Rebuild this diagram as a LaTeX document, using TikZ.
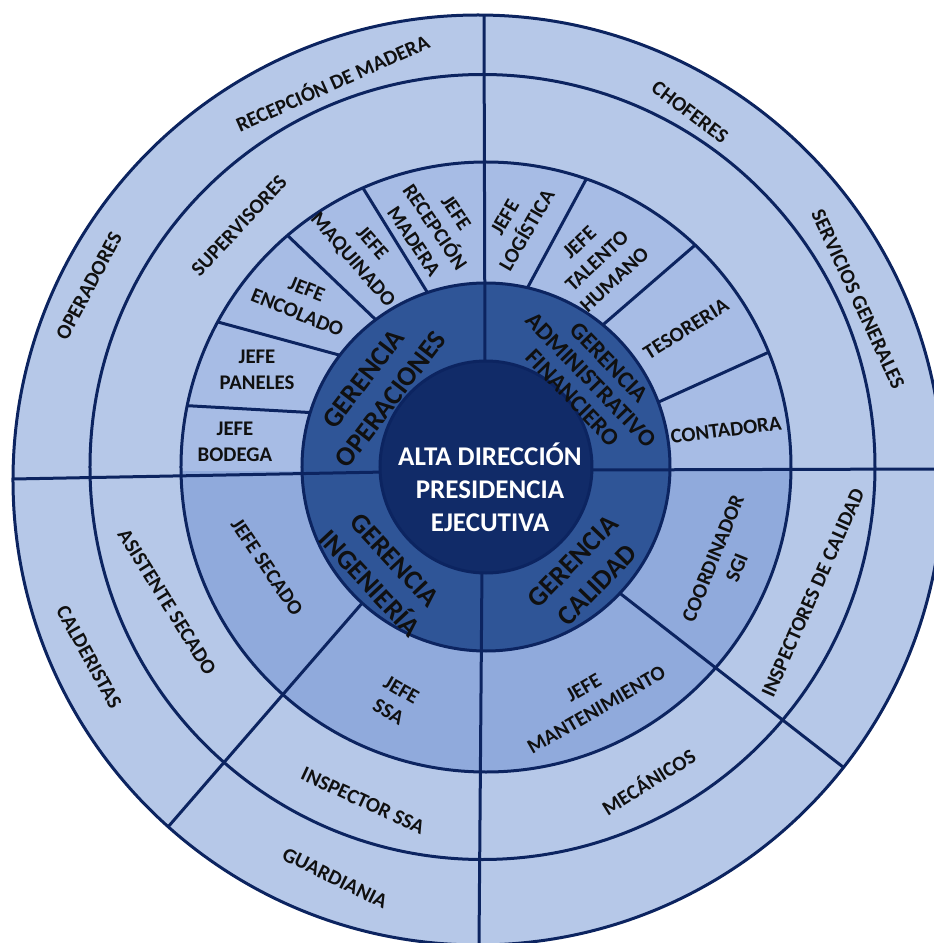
\documentclass[tikz,border=0pt]{standalone}
\usepackage{fontspec}
\setmainfont{Carlito}
\definecolor{ringlight}{HTML}{B6C8E8}
\definecolor{jefeup}{HTML}{A7BCE5}
\definecolor{jefelow}{HTML}{90AADC}
\definecolor{gerencia}{HTML}{2F5597}
\definecolor{core}{HTML}{112B68}
\definecolor{edge}{HTML}{0C2460}
\definecolor{ink}{HTML}{101010}
\begin{document}
\begin{tikzpicture}[x=1pt,y=1pt,
  sep/.style={draw=edge,line width=3pt},
  ring/.style={draw=edge,line width=3pt},
  lbl/.style={font=\bfseries\fontsize{20.8}{25.5}\selectfont,text=ink,align=center,inner sep=0pt},
  glbl/.style={font=\bfseries\fontsize{27.5}{34}\selectfont,text=ink,align=center,inner sep=0pt},
  albl/.style={font=\bfseries\fontsize{24}{25.5}\selectfont,text=ink,align=center,inner sep=0pt},
  clbl/.style={font=\bfseries\fontsize{27}{33}\selectfont,text=white,align=center,inner sep=0pt}]
\useasboundingbox (-486,-476) rectangle (448,467);
\clip (-486,-476) rectangle (448,467);

% outer bands
\fill[ringlight] (-8,-13) circle (465);
\fill[ringlight] (-3.5,0) circle (392.5);

% band of the jefaturas: upper half lighter, lower half darker
\fill[jefeup] (0,0) circle (305);
\begin{scope}
  \clip (-320,-4) rectangle (320,-320);
  \fill[jefelow] (0,0) circle (305);
\end{scope}

% dividers of the jefaturas band
\draw[sep] (162.3:178) -- (168.4:305);
\draw[sep] (141.8:178) -- (151.6:305);
\draw[sep] (126.5:178) -- (130.6:305);
\draw[sep] (108.1:178) -- (113.8:305);
\draw[sep] (77.5:178) -- (70.8:305);
\draw[sep] (50.9:178) -- (46.7:305);
\draw[sep] (20.5:178) -- (22.1:305);

% long dividers of the lower half
\coordinate (ssaIn) at (-122,-134);
\coordinate (ssaOut) at (-318,-360);
\coordinate (mtoIn) at (131,-124);
\coordinate (mtoOut) at (357,-300);
\draw[sep] (ssaIn) -- (ssaOut);
\draw[sep] (mtoIn) -- (mtoOut);

% main cross
\coordinate (hL) at (-473,-12);
\coordinate (hLi) at (-100,-5);
\coordinate (hRi) at (100,-3);
\coordinate (hR) at (452,-2);
\coordinate (vT) at (-2,452);
\coordinate (vTi) at (-1,100);
\coordinate (vBi) at (-4,-100);
\coordinate (vB) at (-7,-480);

% ring of the gerencias
\fill[gerencia] (0,0) circle (184);
\draw[sep] (hL) -- (hLi);
\draw[sep] (hRi) -- (hR);
\draw[sep] (vT) -- (vTi);
\draw[sep] (vBi) -- (vB);

% ring outlines
\draw[ring] (-8,-13) circle (465);
\draw[ring] (-3.5,0) circle (392.5);
\draw[ring] (0,0) circle (305);
\draw[ring] (0,0) circle (184);

% core
\fill[core] (0,0) circle (106);
\draw[ring] (0,0) circle (106);
\node[clbl] (core) at (4,-20) {ALTA DIRECCIÓN\\PRESIDENCIA\\EJECUTIVA};

% gerencias
\node[glbl,rotate=52.5] (gop) at (-109,78) {GERENCIA\\OPERACIONES};
\node[albl,rotate=-46] (gaf) at (105,87) {GERENCIA\\ADMINISTRATIVO\\FINANCIERO};
\node[glbl,rotate=-47] (gin) at (-104,-105) {GERENCIA\\INGENIERÍA};
\node[glbl,rotate=46] (gca) at (99,-106) {GERENCIA\\CALIDAD};

% jefaturas
\node[lbl] (bod) at (-251,25) {JEFE\\BODEGA};
\node[lbl] (pan) at (-229,97) {JEFE\\PANELES};
\node[lbl,rotate=-22] (enc) at (-184,166) {JEFE\\ENCOLADO};
\node[lbl,rotate=-49] (maq) at (-124,215) {JEFE\\MAQUINADO};
\node[lbl,rotate=-56] (rec) at (-51,240) {JEFE\\RECEPCIÓN\\MADERA};
\node[lbl,rotate=60] (log) at (30,243) {JEFE\\LOGÍSTICA};
\node[lbl,rotate=43] (tal) at (111,206) {JEFE\\TALENTO\\HUMANO};
\node[lbl,rotate=32] (tes) at (200,138) {TESORERIA};
\node[lbl,rotate=7] (con) at (240,37) {CONTADORA};
\node[lbl,rotate=-56] (sec) at (-219,-100) {JEFE SECADO};
\node[lbl,rotate=-30] (ssa) at (-91,-234) {JEFE\\SSA};
\node[lbl,rotate=30] (mto) at (104,-232) {JEFE\\MANTENIMIENTO};
\node[lbl,rotate=68] (sgi) at (239,-96) {COORDINADOR\\SGI};

% second band
\node[lbl,rotate=47] (sup) at (-247,241) {SUPERVISORES};
\node[lbl,rotate=-58] (asi) at (-319,-135) {ASISTENTE SECADO};
\node[lbl,rotate=-25] (ins) at (-123,-334) {INSPECTOR SSA};
\node[lbl,rotate=32] (mec) at (162,-314) {MECÁNICOS};
\node[lbl,rotate=66] (icd) at (327,-126) {INSPECTORES DE CALIDAD};

% outer band
\node[lbl,rotate=62] (ope) at (-397,181) {OPERADORES};
\node[lbl,rotate=24] (rdm) at (-154,385) {RECEPCIÓN DE MADERA};
\node[lbl,rotate=-37] (cho) at (204,355) {CHOFERES};
\node[lbl,rotate=-65] (ser) at (372,168) {SERVICIOS GENERALES};
\node[lbl,rotate=-61] (cal) at (-397,-190) {CALDERISTAS};
\node[lbl,rotate=-26] (gua) at (-151,-411) {GUARDIANIA};
\end{tikzpicture}
\end{document}
